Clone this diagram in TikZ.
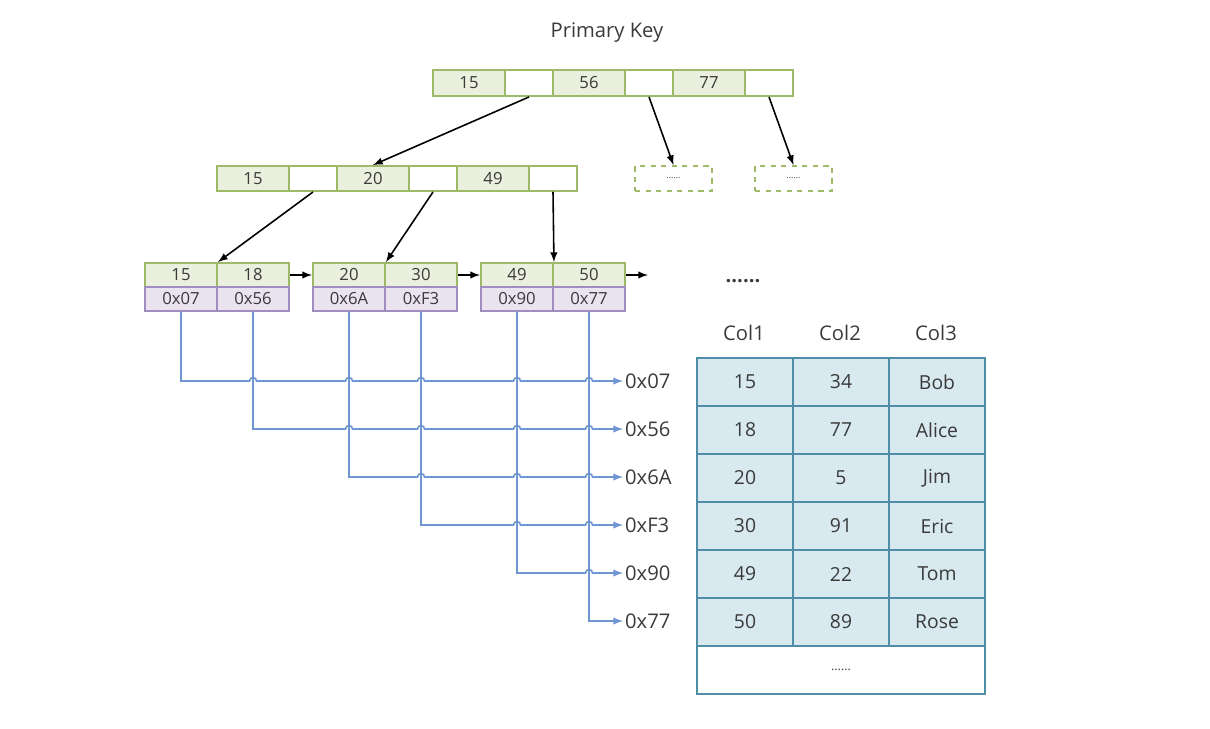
\documentclass[tikz,border=0pt]{standalone}
\usepackage{fontspec}
\setmainfont{Open Sans}
\usetikzlibrary{calc}
\definecolor{keyfill}{HTML}{EAF0DD}
\definecolor{keyline}{HTML}{9DBA68}
\definecolor{addrfill}{HTML}{E9E4EF}
\definecolor{addrline}{HTML}{A08EC2}
\definecolor{tabfill}{HTML}{D8E9EF}
\definecolor{tabline}{HTML}{4F8EA6}
\definecolor{wirec}{HTML}{6E96D2}
\definecolor{txt}{HTML}{3A3A3A}

\begin{document}
\begin{tikzpicture}[x=0.02cm,y=0.02cm,>=latex,
  cell/.style={shape=rectangle,draw=keyline,line width=1.1pt,inner sep=0pt,minimum height=0.48cm,text=txt,font=\fontsize{9.5}{10}\selectfont},
  keycell/.style={cell,fill=keyfill,minimum width=1.44cm},
  ptrcell/.style={cell,fill=white,minimum width=0.96cm},
  addrcell/.style={cell,fill=addrfill,draw=addrline,minimum width=1.44cm},
  stub/.style={cell,dashed,minimum width=1.54cm,minimum height=0.5cm,font=\fontsize{5}{6}\selectfont},
  tcell/.style={cell,fill=tabfill,draw=tabline,minimum width=1.92cm,minimum height=0.96cm,font=\fontsize{11}{12}\selectfont},
  label/.style={text=txt,inner sep=1pt,font=\fontsize{11.5}{13}\selectfont},
  link/.style={->,line width=0.9pt,black},
  wire/.style={->,line width=0.9pt,draw=wirec}]
\def\hr{3.5}
\useasboundingbox (0,0) rectangle (1210,-728);

\node[label] (title) at (607,-33) {Primary Key};

% root
\node[keycell,minimum height=0.52cm] (t1) at (469,-83) {15};
\node[ptrcell,minimum height=0.52cm] (t2) at (529,-83) {};
\node[keycell,minimum height=0.52cm] (t3) at (589,-83) {56};
\node[ptrcell,minimum height=0.52cm] (t4) at (649,-83) {};
\node[keycell,minimum height=0.52cm] (t5) at (709,-83) {77};
\node[ptrcell,minimum height=0.52cm] (t6) at (769,-83) {};

% inner node
\node[keycell,minimum height=0.5cm] (m1) at (253,-178.5) {15};
\node[ptrcell,minimum height=0.5cm] (m2) at (313,-178.5) {};
\node[keycell,minimum height=0.5cm] (m3) at (373,-178.5) {20};
\node[ptrcell,minimum height=0.5cm] (m4) at (433,-178.5) {};
\node[keycell,minimum height=0.5cm] (m5) at (493,-178.5) {49};
\node[ptrcell,minimum height=0.5cm] (m6) at (553,-178.5) {};

\node[stub] (d1) at (673.5,-178.5) {......};
\node[stub] (d2) at (793.5,-178.5) {......};

\draw[link] (t2.south) -- (m3.north);
\draw[link] (t4.south) -- (d1.north);
\draw[link] (t6.south) -- (d2.north);

% leaves
\node[keycell] (k1) at (181,-275) {15};
\node[keycell] (k2) at (253,-275) {18};
\node[keycell] (k3) at (349,-275) {20};
\node[keycell] (k4) at (421,-275) {30};
\node[keycell] (k5) at (517,-275) {49};
\node[keycell] (k6) at (589,-275) {50};
\node[addrcell] (a1) at (181,-299) {0x07};
\node[addrcell] (a2) at (253,-299) {0x56};
\node[addrcell] (a3) at (349,-299) {0x6A};
\node[addrcell] (a4) at (421,-299) {0xF3};
\node[addrcell] (a5) at (517,-299) {0x90};
\node[addrcell] (a6) at (589,-299) {0x77};
\coordinate (next) at (648,-275);

\draw[link] (m2.south) -- (k1.north east);
\draw[link] (m4.south) -- (k3.north east);
\draw[link] (m6.south) -- (k5.north east);
\draw[link] (k2.east) -- (k3.west);
\draw[link] (k4.east) -- (k5.west);
\draw[link] (k6.east) -- (next);

\node[label,font=\fontsize{11.5}{13}\bfseries] (more) at (743,-281) {......};

% row addresses
\node[label,anchor=west] (p1) at (623,-381) {0x07};
\node[label,anchor=west] (p2) at (623,-429) {0x56};
\node[label,anchor=west] (p3) at (623,-477) {0x6A};
\node[label,anchor=west] (p4) at (623,-525) {0xF3};
\node[label,anchor=west] (p5) at (623,-573) {0x90};
\node[label,anchor=west] (p6) at (623,-621) {0x77};

\draw[wire] (a1.south) |- ($(a2.south |- p1.west)-(\hr,0)$) arc (180:0:\hr)
  -- ($(a3.south |- p1.west)-(\hr,0)$) arc (180:0:\hr)
  -- ($(a4.south |- p1.west)-(\hr,0)$) arc (180:0:\hr)
  -- ($(a5.south |- p1.west)-(\hr,0)$) arc (180:0:\hr)
  -- ($(a6.south |- p1.west)-(\hr,0)$) arc (180:0:\hr) -- (p1.west);
\draw[wire] (a2.south) |- ($(a3.south |- p2.west)-(\hr,0)$) arc (180:0:\hr)
  -- ($(a4.south |- p2.west)-(\hr,0)$) arc (180:0:\hr)
  -- ($(a5.south |- p2.west)-(\hr,0)$) arc (180:0:\hr)
  -- ($(a6.south |- p2.west)-(\hr,0)$) arc (180:0:\hr) -- (p2.west);
\draw[wire] (a3.south) |- ($(a4.south |- p3.west)-(\hr,0)$) arc (180:0:\hr)
  -- ($(a5.south |- p3.west)-(\hr,0)$) arc (180:0:\hr)
  -- ($(a6.south |- p3.west)-(\hr,0)$) arc (180:0:\hr) -- (p3.west);
\draw[wire] (a4.south) |- ($(a5.south |- p4.west)-(\hr,0)$) arc (180:0:\hr)
  -- ($(a6.south |- p4.west)-(\hr,0)$) arc (180:0:\hr) -- (p4.west);
\draw[wire] (a5.south) |- ($(a6.south |- p5.west)-(\hr,0)$) arc (180:0:\hr) -- (p5.west);
\draw[wire] (a6.south) |- (p6.west);

% table
\node[label] (h1) at (744,-333) {Col1};
\node[label] (h2) at (840,-333) {Col2};
\node[label] (h3) at (936,-333) {Col3};

\node[tcell] (c11) at (745,-382) {15};
\node[tcell] (c12) at (841,-382) {34};
\node[tcell] (c13) at (937,-382) {Bob};
\node[tcell] (c21) at (745,-430) {18};
\node[tcell] (c22) at (841,-430) {77};
\node[tcell] (c23) at (937,-430) {Alice};
\node[tcell] (c31) at (745,-478) {20};
\node[tcell] (c32) at (841,-478) {5};
\node[tcell] (c33) at (937,-478) {Jim};
\node[tcell] (c41) at (745,-526) {30};
\node[tcell] (c42) at (841,-526) {91};
\node[tcell] (c43) at (937,-526) {Eric};
\node[tcell] (c51) at (745,-574) {49};
\node[tcell] (c52) at (841,-574) {22};
\node[tcell] (c53) at (937,-574) {Tom};
\node[tcell] (c61) at (745,-622) {50};
\node[tcell] (c62) at (841,-622) {89};
\node[tcell] (c63) at (937,-622) {Rose};
\node[tcell,fill=white,minimum width=5.76cm,font=\fontsize{7}{8}\selectfont] (c7) at (841,-670) {......};
\end{tikzpicture}
\end{document}
